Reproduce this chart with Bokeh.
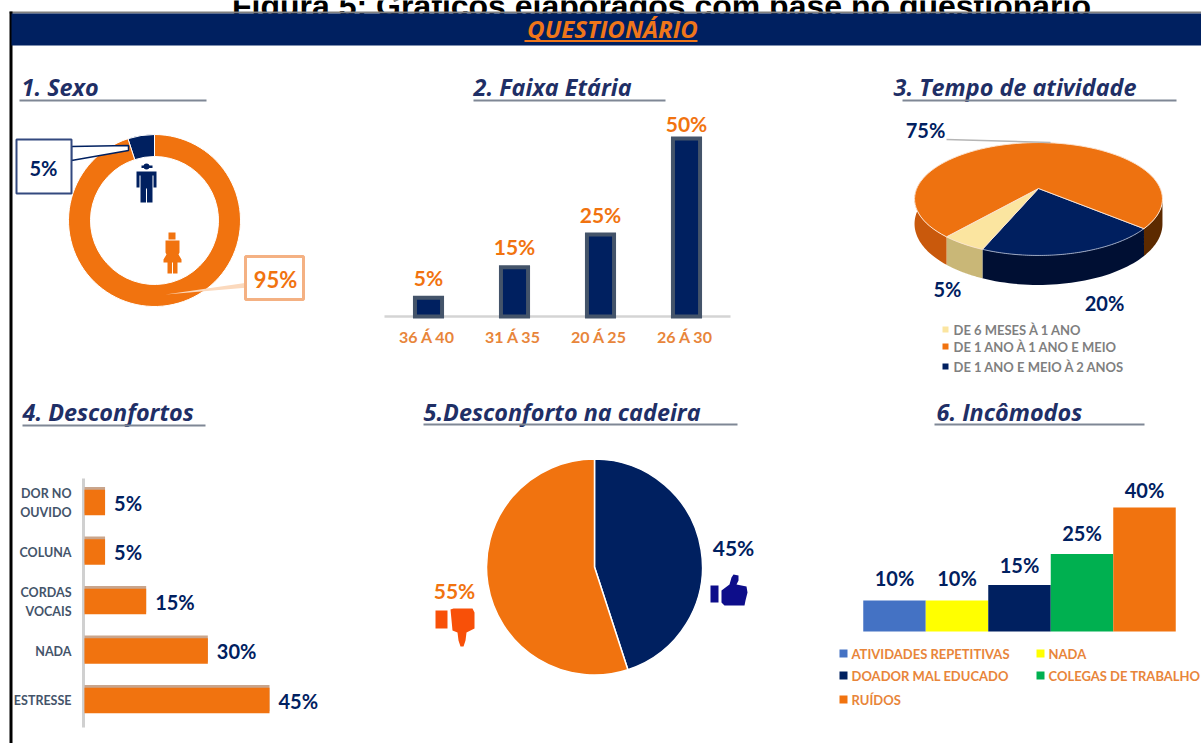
import numpy as np
from bokeh.plotting import figure
from bokeh.models import Range1d
from bokeh.core.properties import value
from bokeh.embed import file_html
from bokeh.resources import INLINE

W, H = 1201, 743
NAVY = "#002060"; ORANGE = "#f1730f"; GREY = "#7f8795"

# ---- data ----
sex_labels = ["5%", "95%"]
sex_values = [5, 95]

age_cats = ["36 Á 40", "31 Á 35", "20 Á 25", "26 Á 30"]
age_values = [5.3, 13.8, 23, 50]
age_labels = ["5%", "15%", "25%", "50%"]

time_cats = ["DE 6 MESES À 1 ANO", "DE 1 ANO À 1 ANO E MEIO", "DE 1 ANO E MEIO À 2 ANOS"]
time_values = [5, 75, 20]
time_labels = ["5%", "75%", "20%"]

disc_cats = [["DOR NO", "OUVIDO"], ["COLUNA"], ["CORDAS", "VOCAIS"], ["NADA"], ["ESTRESSE"]]
disc_values = [5, 5, 15, 30, 45]
disc_labels = ["5%", "5%", "15%", "30%", "45%"]

chair_values = [45, 55]
chair_labels = ["45%", "55%"]

noise_cats = ["ATIVIDADES REPETITIVAS", "NADA", "DOADOR MAL EDUCADO", "COLEGAS DE TRABALHO", "RUÍDOS"]
noise_values = [10, 10, 15, 25, 40]
noise_labels = ["10%", "10%", "15%", "25%", "40%"]
noise_colors = ["#4472c4", "#ffff00", NAVY, "#00b050", ORANGE]

headings = ["1. Sexo", "2. Faixa Etária", "3. Tempo de atividade",
            "4. Desconfortos", "5.Desconforto na cadeira", "6. Incômodos"]


def yy(py):
    return H - np.asarray(py, dtype=float)


def rng(v0, px0, v1, px1, size):
    k = (v1 - v0) / (px1 - px0)
    return Range1d(v0 - px0 * k, v0 + (size - px0) * k)


p = figure(width=W, height=H, x_range=(0, W), y_range=(0, H), output_backend="svg",
           toolbar_location=None, x_axis_location=None, y_axis_location=None,
           min_border=0, outline_line_color=None, background_fill_color="white")
p.grid.visible = False
p.styles = {"position": "absolute", "left": "0px", "top": "0px"}

p.extra_x_ranges = {
    "age_x": rng(0, 428, 3, 686, W),
    "disc_x": rng(0, 84, 45, 269, W),
    "noise_x": rng(0, 894, 4, 1144, W),
}
p.extra_y_ranges = {
    "age_y": rng(0, H - 316, 50, H - 138, H),
    "disc_y": rng(0, H - 502, 4, H - 700, H),
    "noise_y": rng(0, H - 631, 40, H - 507, H),
}


def txt(x, y, s, size, color, style="bold", font="Lato", align="center", base="middle", **kw):
    p.text(x=x, y=y, text=s, text_font=value(font), text_font_size=value(f"{size}px"),
           text_font_style=value(style), text_color=color, text_align=align, text_baseline=base, **kw)


def poly(xs, ys, color, **kw):
    kw.setdefault("line_color", None)
    p.patch(list(xs), list(yy(ys)), fill_color=color, **kw)


# ---- page frame ----
txt([661], yy([5]), ["Figura 5: Gráficos elaborados com base no questionário"], 32, "#000000",
    font="Liberation Sans", base="alphabetic")
p.quad(left=[9], right=[W], bottom=yy([13]), top=yy([11]), fill_color="#808080", line_color=None)
p.quad(left=[9], right=[12], bottom=yy([H]), top=yy([11]), fill_color="#000000", line_color=None)
p.quad(left=[11], right=[W], bottom=yy([45]), top=yy([13]), fill_color=NAVY, line_color=None)
txt([612], yy([28]), ["QUESTIONÁRIO"], 24, "#f0761a", style="bold italic", font="Open Sans")
p.segment([524], yy([40.5]), [697], yy([40.5]), line_color="#f0761a", line_width=2)

# ---- headings ----
head_x = [21, 473, 893, 22, 423, 936]
head_y = [86.5, 86.5, 86.5, 411.5, 411.5, 411.5]
rule = [(19, 206, 100), (473, 665, 100), (902, 1176, 100), (22, 205, 425), (423, 737, 424), (934, 1144, 424)]
txt(head_x, yy(head_y), headings, 23.4, "#1f2f66", style="bold italic", font="Open Sans", align="left")
for a, b, c in rule:
    p.segment([a], yy([c]), [b], yy([c]), line_color=GREY, line_width=2)

# ---- 1. Sexo ----
frac = np.cumsum([0] + sex_values) / sum(sex_values) * 2 * np.pi + np.pi / 2
p.annular_wedge(x=[154, 154], y=yy([220, 220]), inner_radius=64, outer_radius=86,
                inner_radius_units="screen", outer_radius_units="screen",
                start_angle=frac[:-1], end_angle=frac[1:], fill_color=[NAVY, ORANGE],
                line_color="white", line_width=1)
# call-outs
poly([71, 128, 128, 71], [146, 145, 150, 160], "white", line_color=NAVY, line_width=1.5)
p.quad(left=[16], right=[71], bottom=yy([193]), top=yy([139]), fill_color="white", line_color="#33497f", line_width=2)
poly([248, 165, 248], [282, 294, 287], "#fbd9bd")
p.quad(left=[245], right=[303], bottom=yy([299]), top=yy([256]), fill_color="white", line_color="#f4b183", line_width=3)
txt([43], yy([167]), sex_labels[:1], 20, NAVY)
txt([275], yy([279]), sex_labels[1:], 22, ORANGE)
# man
man_x = [136, 156, 156, 153, 153, 152, 152, 146.5, 146.5, 145.5, 145.5, 140, 140, 139, 139, 136]
man_y = [171, 171, 187, 187, 175, 175, 202, 202, 188, 188, 202, 202, 175, 175, 187, 187]
poly(man_x, man_y, NAVY)
p.ellipse(x=[146], y=yy([166]), width=6, height=6, fill_color=NAVY, line_color=None)
p.quad(left=[141], right=[152], bottom=yy([167.5]), top=yy([165]), fill_color=NAVY, line_color=None)
# woman
wom_x = [165, 179, 179, 178, 181, 181, 177, 177, 172.5, 172.5, 171.5, 171.5, 167, 167, 163, 163, 166, 165]
wom_y = [240, 240, 252, 254, 259, 262, 262, 273, 273, 262, 262, 273, 273, 262, 262, 259, 254, 252]
poly(wom_x, wom_y, ORANGE)
p.quad(left=[168], right=[175], bottom=yy([239]), top=yy([232]), fill_color=ORANGE, line_color=None)

# ---- 2. Faixa Etaria ----
age_i = list(range(len(age_values)))
p.segment([384], yy([316]), [730], yy([316]), line_color="#d4d4d4", line_width=2.5)
p.vbar(x=age_i, top=age_values, bottom=0, width=0.315, fill_color=NAVY, line_color="#44546a", line_width=4,
       line_join="miter", x_range_name="age_x", y_range_name="age_y")
txt(age_i, age_values, age_labels, 21, ORANGE, x_range_name="age_x", y_range_name="age_y",
    y_offset=[-20, -21, -20, -15])
txt(age_i, [0] * 4, age_cats, 16, "#e8853a", x_range_name="age_x", y_range_name="age_y", y_offset=20, x_offset=-1.5)

# ---- 3. Tempo de atividade ----
cx0, cy0, A, B, K, DEPTH = 1038, 188, 121.8, 54.5, 0.186, 24


def proj(t):
    d = 1 + K * np.sin(t)
    return cx0 + A * np.cos(t) / d, cy0 - B * np.sin(t) / d, DEPTH / d


start = np.radians(-40.4)
order = [2, 0, 1]  # clockwise: navy, beige, orange
ang = [start]
for i in order:
    ang.append(ang[-1] - time_values[i] / 100 * 2 * np.pi)
top_col = {0: "#fbe5a0", 1: "#ee7210", 2: "#001f5f"}
side_col = {0: "#c9b777", 2: "#000f33"}


def wall(t0, t1, col):
    t = np.linspace(t0, t1, 40)
    x, y, d = proj(t)
    poly(np.r_[x, x[::-1]], np.r_[y, (y + d)[::-1]], col)


right_edge, left_edge = np.radians(-10.7), np.radians(-189.3)
wall(right_edge, ang[0], "#5c2a00")
wall(ang[0], ang[1], side_col[2])
wall(ang[1], ang[2], side_col[0])
wall(ang[2], left_edge, "#c9590c")
for k, i in enumerate(order):
    t = np.linspace(ang[k], ang[k + 1], 90)
    x, y, _ = proj(t)
    poly(np.r_[cx0, x], np.r_[cy0, y], top_col[i], line_color="#fbe3d0" if i != 2 else "#9aa6c0", line_width=1)
p.segment([946], yy([139]), [1050], yy([142]), line_color="#b5b5b5", line_width=1.5)
txt([947, 925, 1104], yy([288, 129, 302]), time_labels, 20, NAVY)
leg3_y = [329, 346, 366]
p.scatter(x=[945] * 3, y=yy(leg3_y), size=6, marker="square", fill_color=["#fbe5a0", ORANGE, NAVY], line_color=None)
txt([953] * 3, yy(leg3_y), time_cats, 13, "#7f7f7f", align="left")

# ---- 4. Desconfortos ----
disc_i = list(range(len(disc_values)))
p.segment([83], yy([478]), [83], yy([727]), line_color="#d0d0d0", line_width=3)
p.hbar(y=[i - 0.05 for i in disc_i], left=0, right=disc_values, height=0.53, fill_color="#c9a58c", line_color=None,
       x_range_name="disc_x", y_range_name="disc_y")
p.hbar(y=disc_i, left=0, right=disc_values, height=0.52, fill_color=ORANGE, line_color=None,
       x_range_name="disc_x", y_range_name="disc_y")
txt(disc_values, disc_i, disc_labels, 20, NAVY, align="left", x_range_name="disc_x", y_range_name="disc_y", x_offset=9)
for i, lines in enumerate(disc_cats):
    off = [0] if len(lines) == 1 else [-9, 10]
    for s, o in zip(lines, off):
        txt([0], [i], [s], 12.5, "#44546a", align="right", x_range_name="disc_x", y_range_name="disc_y",
            x_offset=-13, y_offset=o)

# ---- 5. Desconforto na cadeira ----
cuts = np.pi / 2 - np.cumsum([0] + chair_values) / sum(chair_values) * 2 * np.pi
p.wedge(x=[594, 594], y=yy([566.5, 566.5]), radius=108, radius_units="screen",
        start_angle=cuts[:-1], end_angle=cuts[1:], direction="clock",
        fill_color=[NAVY, ORANGE], line_color="white", line_width=1.5)
txt([733, 454], yy([547, 590]), chair_labels, 21, [NAVY, ORANGE])
# thumbs
up_x = [721, 729, 731, 733, 738, 738, 736, 746, 747, 745, 744, 724, 721]
up_y = [590, 584, 577, 574, 575, 580, 584, 586, 592, 600, 605, 605, 602]
p.quad(left=[710], right=[718], bottom=yy([602]), top=yy([585]), fill_color="#0d0d8a", line_color=None)
poly(up_x, up_y, "#0d0d8a")
dn_x = [450, 453, 472, 474, 474, 466, 465, 463, 460, 458, 457, 452]
dn_y = [609, 608, 608, 612, 628, 632, 640, 646, 646, 640, 632, 630]
p.quad(left=[435], right=[447], bottom=yy([628]), top=yy([610]), fill_color="#f85008", line_color=None)
poly(dn_x, dn_y, "#f85008")

# ---- 6. Incomodos ----
noise_i = list(range(len(noise_values)))
p.vbar(x=noise_i, top=noise_values, bottom=0, width=1, fill_color=noise_colors, line_color=None,
       x_range_name="noise_x", y_range_name="noise_y")
txt(noise_i, noise_values, noise_labels, 20, NAVY, x_range_name="noise_x", y_range_name="noise_y",
    y_offset=[-23, -23, -20, -21, -18])
leg_x = [843, 1040, 843, 1040, 843]
leg_y = [653, 653, 675, 675, 699]
p.scatter(x=leg_x, y=yy(leg_y), size=8, marker="square", fill_color=noise_colors, line_color=None)
txt([x + 8 for x in leg_x], yy(leg_y), noise_cats, 13, "#e8853a", align="left")

open("out.html", "w").write(file_html(p, INLINE))
